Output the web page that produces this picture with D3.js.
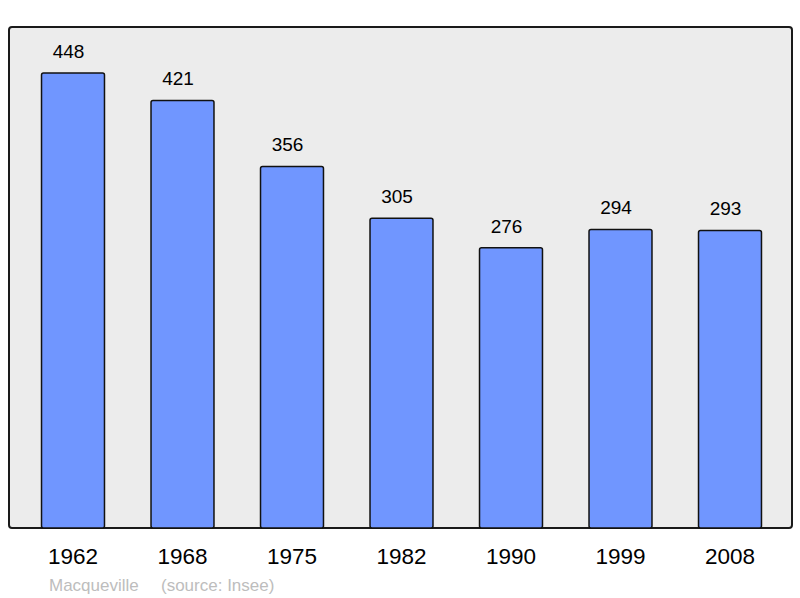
<!DOCTYPE html>
<html lang="fr">
<head>
<meta charset="UTF-8">
<title>Macqueville</title>
<style>
  body { margin: 0; background: #fff; }
  svg text { font-family: "Liberation Sans", Arial, sans-serif; }
</style>
</head>
<body>
<div id="chart"></div>
<script src="https://d3js.org/d3.v7.min.js"></script>
<script>
// population data
const years = ["1962", "1968", "1975", "1982", "1990", "1999", "2008"];
const population = [448, 421, 356, 305, 276, 294, 293];
const town = "Macqueville";
const source = "(source: Insee)";

const W = 800, H = 598;
const frame = {left: 9, top: 27, right: 792, bottom: 528};

const svg = d3.select("#chart")
  .append("svg")
    .attr("width", W)
    .attr("height", H);

// background panel
svg.append("rect")
  .attr("x", frame.left)
  .attr("y", frame.top)
  .attr("width", frame.right - frame.left)
  .attr("height", frame.bottom - frame.top)
  .attr("rx", 3)
  .attr("fill", "#ececec")
  .attr("stroke", "#1a1a1a")
  .attr("stroke-width", 2);

const x = d3.scaleBand()
  .domain(years)
  .range([18.25, 784.75])
  .paddingInner(0.425)
  .paddingOuter(0.2125);

const y = d3.scaleLinear()
  .domain([0, 493.3])
  .range([frame.bottom, frame.top]);

const data = years.map((yr, i) => ({year: yr, value: population[i]}));

// bars
svg.selectAll(".bar")
  .data(data)
  .join("rect")
    .attr("class", "bar")
    .attr("x", d => x(d.year))
    .attr("y", d => y(d.value))
    .attr("width", x.bandwidth())
    .attr("height", d => y(0) - y(d.value))
    .attr("rx", 2)
    .attr("fill", "#7096ff")
    .attr("stroke", "#111")
    .attr("stroke-width", 1.5);

// value labels (sit a little left of the bar centre in the original)
svg.selectAll(".val")
  .data(data)
  .join("text")
    .attr("class", "val")
    .attr("x", d => x(d.year) + x.bandwidth() / 2 - 4.5)
    .attr("y", d => y(d.value) - 15)
    .attr("text-anchor", "middle")
    .style("font-size", "19px")
    .attr("fill", "#000")
    .text(d => d.value);

// x axis labels
const xAxis = svg.append("g")
  .attr("transform", `translate(0, 564)`)
  .call(d3.axisBottom(x).tickSize(0).tickPadding(0));
xAxis.select(".domain").remove();
xAxis.selectAll("text")
  .attr("dy", 0)
  .attr("y", 0)
  .style("font-size", "22.5px")
  .style("font-family", "'Liberation Sans', Arial, sans-serif")
  .attr("fill", "#000");

// caption
svg.append("text")
  .attr("x", 49)
  .attr("y", 591)
  .style("font-size", "17px")
  .attr("fill", "#bdbdbd")
  .text(town);
svg.append("text")
  .attr("x", 161)
  .attr("y", 591)
  .style("font-size", "17px")
  .attr("fill", "#bdbdbd")
  .text(source);
</script>
</body>
</html>
